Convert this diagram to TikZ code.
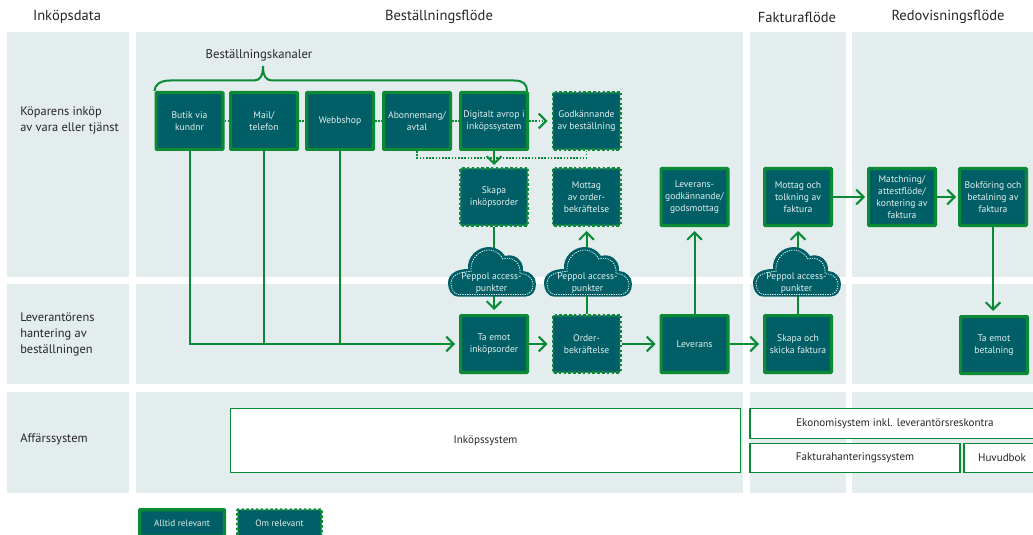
\documentclass[tikz,border=0pt]{standalone}
\usepackage{fontspec}
\setmainfont{PT Sans}
\usepackage{tikz}
\usetikzlibrary{arrows.meta,positioning,calc}
\definecolor{panelgrey}{HTML}{E4EDEE}
\definecolor{boxteal}{HTML}{005F66}
\definecolor{linegreen}{HTML}{0B8A35}
\tikzset{
 barb/.tip={Straight Barb[length=5.5pt,width=11pt,line width=1.5pt]},
 panel/.style={fill=panelgrey, draw=none},
 alltid/.style={draw=linegreen, fill=boxteal, text=white!90!boxteal, line width=2.4pt, minimum width=50.1pt, minimum height=42.6pt, inner sep=0pt, align=center, font=\fontsize{7.2}{9}\selectfont, rounded corners=0.5pt},
 omrel/.style={alltid, line width=1.9pt, minimum width=50.6pt, minimum height=43.1pt, dash pattern=on 1.9pt off 1.7pt},
 head/.style={font=\fontsize{10.9}{13}\selectfont, text=black!85},
 kanal/.style={font=\fontsize{9.5}{12}\selectfont, text=black!85},
 rowlabel/.style={font=\fontsize{9.3}{12}\selectfont, text=black!85, align=left, anchor=west, inner sep=0pt},
 system/.style={draw=linegreen, fill=white, line width=0.8pt, inner sep=0pt, font=\fontsize{8.3}{10}\selectfont, text=black!85},
 flow/.style={draw=linegreen, line width=1.5pt, -barb, shorten >=3pt},
 flowplain/.style={draw=linegreen, line width=1.5pt},
 flowdot/.style={draw=linegreen, line width=1.2pt, dash pattern=on 1.2pt off 1.2pt},
 molntext/.style={text=white!90!boxteal, font=\fontsize{7.2}{9}\selectfont, align=center, inner sep=0pt},
 moln/.pic={
  \path[fill=boxteal] (-34,24.5) .. controls (-41,24.5) and (-44,17) .. (-44,11) .. controls (-44,3) and (-37,-3) .. (-24,-3) .. controls (-25,-16) and (-14,-25) .. (-3,-25) .. controls (4,-25) and (10,-21) .. (13,-16) .. controls (22,-19) and (32,-12) .. (31,-1) .. controls (38,-1) and (44,5) .. (44,12) .. controls (44,19) and (40,24.5) .. (34,24.5) -- cycle;
  \draw[white, line width=0.55pt, dash pattern=on 0.9pt off 0.9pt] (-33,22.5) .. controls (-38,22.5) and (-41,17) .. (-41,11) .. controls (-41,5) and (-35,-0.5) .. (-21,-0.5) .. controls (-22,-14) and (-12,-22) .. (-3,-22) .. controls (3,-22) and (8,-18) .. (11,-13) .. controls (20,-16) and (29,-10) .. (28,1.5) .. controls (35,1.5) and (41,6) .. (41,12) .. controls (41,18) and (38,22.5) .. (33,22.5) -- cycle;
 }
}
\begin{document}
\begin{tikzpicture}[x=0.75pt,y=-0.75pt]
\useasboundingbox (0,0) rectangle (1033,535);
% panels
\foreach \xa/\xb in {7/129,136/743,750/846,852/1033}{
 \foreach \ya/\yb in {32/276.5,284/384,392/493}{
  \fill[panel] (\xa,\ya) rectangle (\xb,\yb);
 }
}
% headers
\node[head] (h1) at (67,17) {Inköpsdata};
\node[head] (h2) at (439,17) {Beställningsflöde};
\node[head] (h3) at (797,17) {Fakturaflöde};
\node[head] (h4) at (948,17) {Redovisningsflöde};
\node[rowlabel] (r1) at (20,120.5) {Köparens inköp\\av vara eller tjänst};
\node[rowlabel] (r2) at (20,334.5) {Leverantörens\\hantering av\\beställningen};
\node[rowlabel] (r3) at (20,439) {Affärssystem};
\node[kanal] (kanaler) at (259,55) {Beställningskanaler};
% boxes
\node[alltid] (butik) at (189.5,121) {Butik via\\kundnr};
\node[alltid] (mail) at (264,121) {Mail/\\telefon};
\node[alltid] (webb) at (340,121) {Webbshop};
\node[alltid] (abonn) at (417,121) {Abonnemang/\\avtal};
\node[alltid] (avrop) at (494,121) {Digitalt avrop i\\inköpssystem};
\node[omrel] (godk) at (586.5,121) {Godkännande\\av beställning};
\node[omrel] (skapa) at (494,197) {Skapa\\inköpsorder};
\node[omrel] (mottagorder) at (586.5,197) {Mottag\\av order-\\bekräftelse};
\node[alltid] (levgodk) at (694.5,197) {Leverans-\\godkännande/\\godsmottag};
\node[alltid] (mottagfakt) at (798,197) {Mottag och\\tolkning av\\faktura};
\node[alltid] (match) at (902,197) {Matchning/\\attestflöde/\\kontering av\\faktura};
\node[alltid] (bokf) at (993,197) {Bokföring och\\betalning av\\faktura};
\node[alltid] (taemot) at (494,344) {Ta emot\\inköpsorder};
\node[omrel] (order) at (586.5,344) {Order-\\bekräftelse};
\node[alltid] (leverans) at (694.5,344) {Leverans};
\node[alltid] (skapafakt) at (798,344) {Skapa och\\skicka faktura};
\node[alltid] (betalning) at (994,345) {Ta emot\\betalning};
% connectors
\draw[flowdot] (butik) -- (mail);
\draw[flowdot] (mail) -- (webb);
\draw[flowdot] (webb) -- (abonn);
\draw[flowdot] (abonn) -- (avrop);
\draw[flowdot, line width=1.5pt, -barb, shorten >=3pt] (avrop) -- (godk);
\draw[flowdot] (abonn.south) -- ++(0,7) -| (godk.south);
\draw[flow, shorten >=1.5pt] (avrop.south) -- (skapa.north);
\draw[flow] (butik.south) |- (taemot.west);
\draw[flowplain] (mail.south) -- (mail.south |- taemot.west);
\draw[flowplain] (webb.south) -- (webb.south |- taemot.west);
\draw[flow] (skapa.south) -- (taemot.north);
\draw[flow] (taemot) -- (order);
\draw[flow] (order) -- (leverans);
\draw[flow] (leverans) -- (skapafakt);
\draw[flow] (order.north) -- (mottagorder.south);
\draw[flow] (leverans.north) -- (levgodk.south);
\draw[flow] (skapafakt.north) -- (mottagfakt.south);
\draw[flow, shorten >=1.5pt] (mottagfakt) -- (match);
\draw[flow, shorten >=1.5pt] (match) -- (bokf);
\draw[flow] (bokf.south) -- (bokf.south |- betalning.north);
% brace
\draw[flowplain] (butik.north west) .. controls +(0,-6) and (160,80.5) .. (170,80.5) -- (254,80.5) .. controls (260,80.5) and (263,76) .. (263,66) .. controls (263,76) and (266,80.5) .. (272,80.5) -- (514,80.5) .. controls (523,80.5) and (527,84) .. (527,91);
% clouds
\pic (moln1) at (492,272) {moln};
\pic (moln2) at (588,272) {moln};
\pic (moln3) at (797,272) {moln};
\node[molntext] (mt1) at (491.5,283.5) {Peppol access-\\punkter};
\node[molntext] (mt2) at (587.5,283.5) {Peppol access-\\punkter};
\node[molntext] (mt3) at (796.5,283.5) {Peppol access-\\punkter};
% system
\node[system, minimum width=382.5pt, minimum height=48pt] (inkop) at (485.5,440.5) {Inköpssystem};
\node[system, minimum width=217.5pt, minimum height=23pt] (ekon) at (895,423.5) {Ekonomisystem inkl. leverantörsreskontra};
\node[system, minimum width=157.5pt, minimum height=22pt] (fakt) at (855,458) {Fakturahanteringssystem};
\node[system, minimum width=57pt, minimum height=22pt] (huvud) at (1002,458) {Huvudbok};
% legend
\node[alltid, minimum width=63.6pt, minimum height=20pt, font=\fontsize{6.9}{8}\selectfont] (leg1) at (182,523) {Alltid relevant};
\node[omrel, minimum width=63pt, minimum height=20pt, font=\fontsize{6.9}{8}\selectfont] (leg2) at (279.5,523) {Om relevant};
\end{tikzpicture}
\end{document}
